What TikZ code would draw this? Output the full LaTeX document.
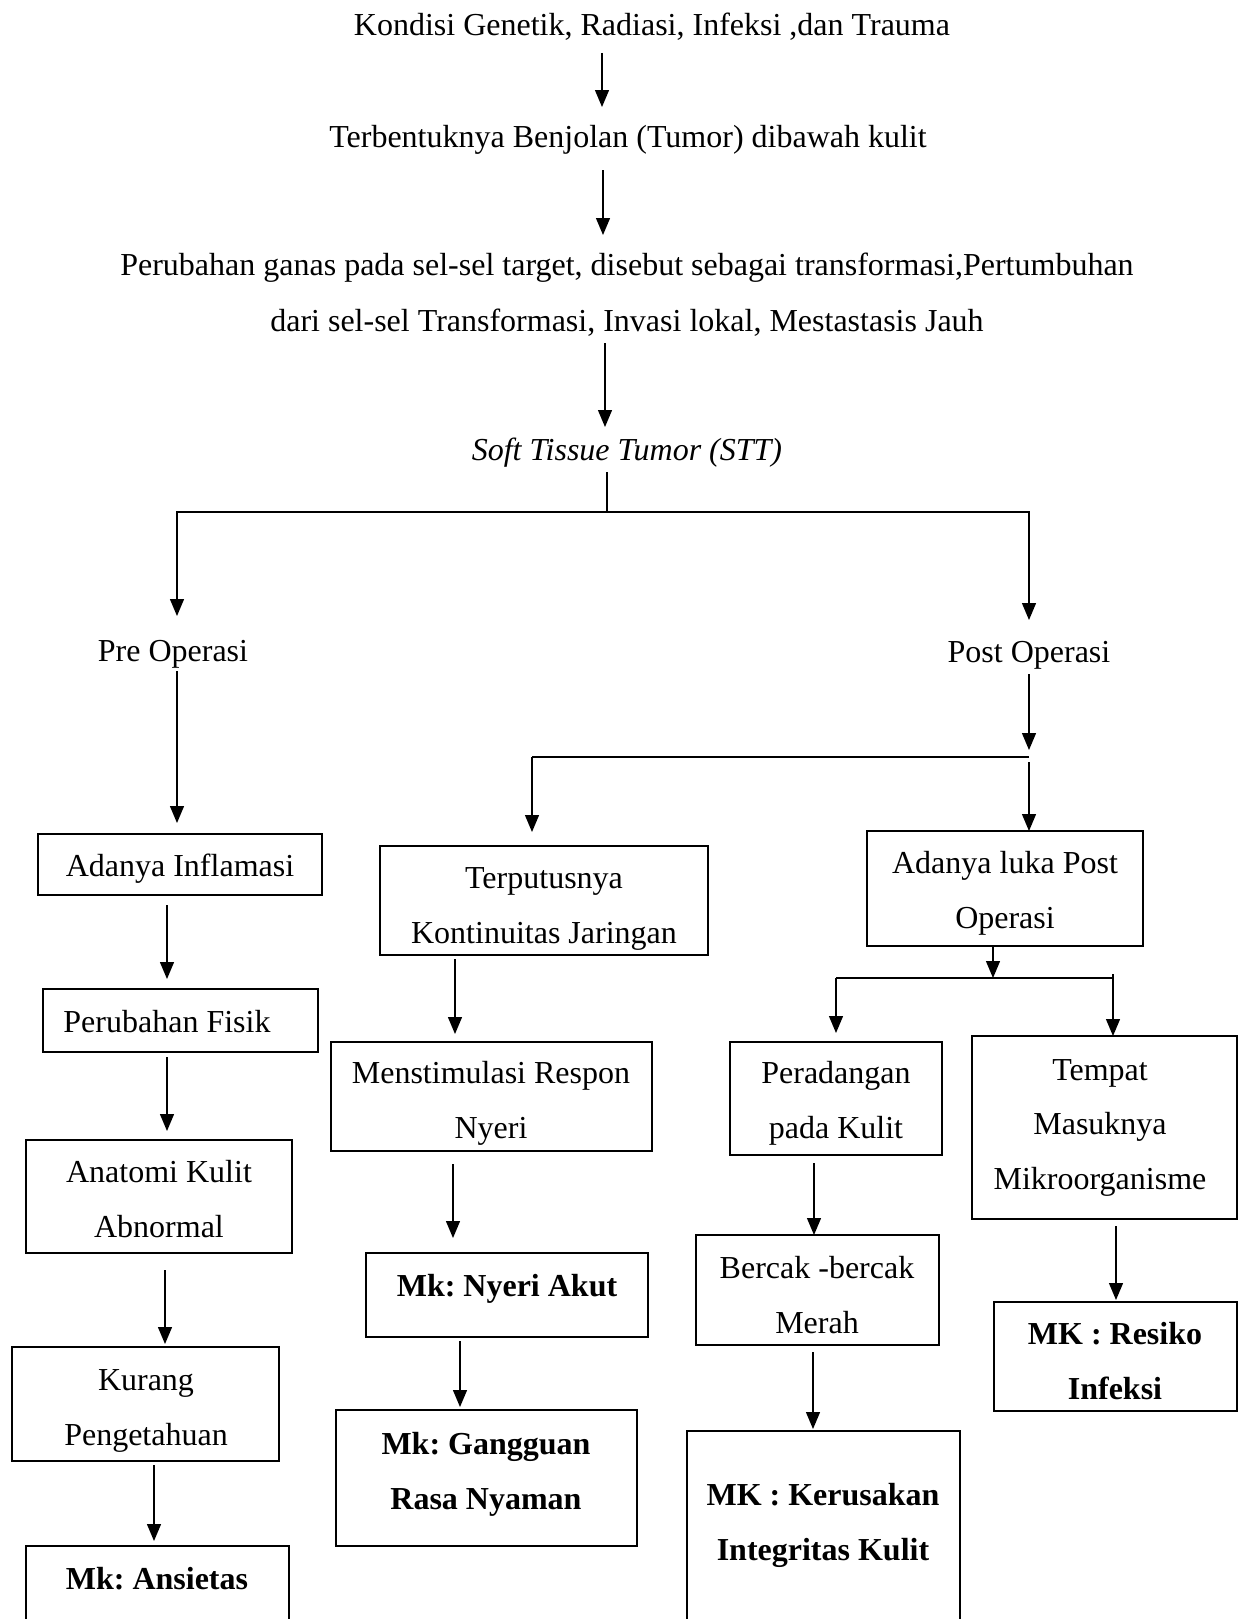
\documentclass[tikz,border=0pt]{standalone}
\usepackage{fontspec}
\setmainfont{Liberation Serif}
\usetikzlibrary{arrows.meta,calc}
\frenchspacing
\newcommand\lnst{\rule[-8pt]{0pt}{38pt}}
\newcommand\bx[5]{\node[box, minimum width={#4-#2}, minimum height={#5-#3}] (#1) at ({(#2+#4)/2},{(#3+#5)/2}) {};}
\newcommand\conn[5]{\draw[arr] ($(#1 -| #3,0)+(0,#4)$) -- ($(#2 -| #3,0)+(0,#5)$);}
\begin{document}
\begin{tikzpicture}[x=1pt,y=-1pt,
  box/.style={draw, rectangle, line width=2.6pt, inner sep=0pt, outer sep=0pt},
  txt/.style={inner sep=0pt, outer sep=0pt, align=center, font=\frenchspacing\fontsize{32}{55}\selectfont},
  arr/.style={line width=1.3pt, -{Triangle[length=17pt,width=14pt]}},
  ln/.style={line width=1.3pt}]
\useasboundingbox (0,0) rectangle (1239,1619);
\fill[white] (0,0) rectangle (1239,1619);
\clip (0,0) rectangle (1239,1619);

% top texts
\node[txt] (tK) at (652,25) {\lnst Kondisi Genetik, Radiasi, Infeksi ,dan Trauma};
\node[txt] (tT) at (628,136) {\lnst Terbentuknya Benjolan (Tumor) dibawah kulit};
\node[txt, font=\frenchspacing\fontsize{32}{56}\selectfont] (tP) at (627,292) {\lnst Perubahan ganas pada sel-sel target, disebut sebagai transformasi,Pertumbuhan\\\lnst dari sel-sel Transformasi, Invasi lokal, Mestastasis Jauh};
\node[txt] (tS) at (627,449) {\lnst\itshape Soft Tissue Tumor (STT)};
\node[txt] (tPre) at (173,650) {\lnst Pre Operasi};
\node[txt] (tPost) at (1029,651) {\lnst Post Operasi};

% boxes
\bx{bInf}{38}{834}{322}{895}
\bx{bTer}{380}{846}{708}{955}
\bx{bLuka}{867}{831}{1143}{946}
\bx{bFis}{43}{989}{318}{1052}
\bx{bAna}{26}{1140}{292}{1253}
\bx{bKur}{12}{1347}{279}{1461}
\bx{bAns}{26}{1546}{289}{1660}
\bx{bMen}{331}{1042}{652}{1151}
\bx{bNye}{366}{1253}{648}{1337}
\bx{bGan}{336}{1410}{637}{1546}
\bx{bPer}{730}{1042}{942}{1155}
\bx{bTem}{972}{1036}{1237}{1219}
\bx{bBer}{696}{1235}{939}{1345}
\bx{bKer}{687}{1431}{960}{1660}
\bx{bRes}{994}{1302}{1237}{1411}

% box texts
\node[txt] (tInf) at (180,865) {\lnst Adanya Inflamasi};
\node[txt] (tTer) at (544,905) {\lnst Terputusnya\\\lnst Kontinuitas Jaringan};
\node[txt] (tLuka) at (1005,890) {\lnst Adanya luka Post\\\lnst Operasi};
\node[txt] (tFis) at (167,1021) {\lnst Perubahan Fisik};
\node[txt] (tAna) at (159,1198.5) {\lnst Anatomi Kulit\\\lnst Abnormal};
\node[txt] (tKur) at (146,1407) {\lnst Kurang\\\lnst Pengetahuan};
\node[txt] (tAns) at (157,1578) {\lnst\bfseries Mk: Ansietas};
\node[txt] (tMen) at (491,1100) {\lnst Menstimulasi Respon\\\lnst Nyeri};
\node[txt] (tNye) at (507,1285) {\lnst\bfseries Mk: Nyeri Akut};
\node[txt] (tGan) at (486,1471) {\lnst\bfseries Mk: Gangguan\\\lnst\bfseries Rasa Nyaman};
\node[txt] (tPer) at (836,1100) {\lnst Peradangan\\\lnst pada Kulit};
\node[txt, font=\frenchspacing\fontsize{32}{54.5}\selectfont] (tTem) at (1100,1123.5) {\lnst Tempat\\\lnst Masuknya\\\lnst Mikroorganisme};
\node[txt] (tBer) at (817,1294.5) {\lnst Bercak -bercak\\\lnst Merah};
\node[txt] (tKer) at (823,1521.5) {\lnst\bfseries MK : Kerusakan\\\lnst\bfseries Integritas Kulit};
\node[txt] (tRes) at (1115,1360.5) {\lnst\bfseries MK : Resiko\\\lnst\bfseries Infeksi};

% junction coordinates
\coordinate (jS) at (607,512);
\coordinate (jP) at (1029,757);
\coordinate (jL) at (532,757);
\coordinate (jQ) at (993,978);
\coordinate (jQL) at (836,978);
\coordinate (jQR) at (1113,978);

% top connectors
\conn{tK.south}{tT.north}{602}{9}{-10}
\conn{tT.south}{tP.north}{603}{15}{-10}
\conn{tP.south}{tS.north}{605}{4}{-3}
\draw[ln] ($(tS.south -| jS)+(0,4)$) -- (jS);
\draw[arr] (jS) -| ($(tPre.north -| 177,0)+(0,-15)$);
\draw[arr] (jS) -| ($(tPost.north -| 1029,0)+(0,-12)$);

% pre operasi column
\conn{tPre.south}{bInf.north}{177}{2}{-11}
\conn{bInf.south}{bFis.north}{167}{10}{-10}
\conn{bFis.south}{bAna.north}{167}{5}{-9}
\conn{bAna.south}{bKur.north}{165}{17}{-3}
\conn{bKur.south}{bAns.north}{154}{4}{-5}

% post operasi split
\draw[arr] ($(tPost.south -| jP)+(0,4)$) -- ($(jP)+(0,-7)$);
\draw[ln] (jP) -- (jL);
\draw[arr] (jL) -- ($(bTer.north -| jL)+(0,-14)$);
\draw[arr] ($(jP)+(0,5)$) -- (bLuka.north -| jP);

% middle column
\conn{bTer.south}{bMen.north}{455}{4}{-8}
\conn{bMen.south}{bNye.north}{453}{13}{-15}
\conn{bNye.south}{bGan.north}{460}{4}{-3}

% right part
\draw[arr] ($(bLuka.south -| jQ)+(0,1)$) -- (jQ);
\draw[ln] (jQL) -- (jQR);
\draw[arr] (jQL) -- ($(bPer.north -| jQL)+(0,-9)$);
\draw[arr] ($(jQR)+(0,-4)$) -- (bTem.north -| jQR);
\conn{bPer.south}{bBer.north}{814}{8}{0}
\conn{bBer.south}{bKer.north}{813}{7}{-2}
\conn{bTem.south}{bRes.north}{1116}{7}{-2}
\end{tikzpicture}
\end{document}
